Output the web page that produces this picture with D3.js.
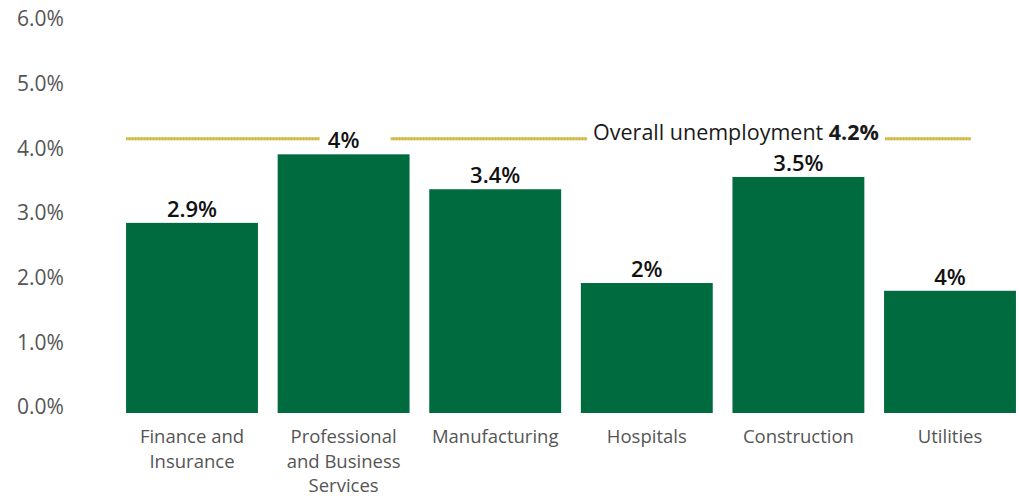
<!DOCTYPE html>
<html>
<head>
<meta charset="utf-8">
<script src="https://cdn.jsdelivr.net/npm/d3@7"></script>
<style>
  html, body { margin: 0; padding: 0; background: #fff; }
  svg { display: block; }
</style>
</head>
<body>
<svg id="chart" width="1019" height="496"></svg>
<script>
const categories = [
  ["Finance and", "Insurance"],
  ["Professional", "and Business", "Services"],
  ["Manufacturing"],
  ["Hospitals"],
  ["Construction"],
  ["Utilities"]
];
const values = [2.94, 4.0, 3.46, 2.01, 3.65, 1.89];
const valueLabels = ["2.9%", "4%", "3.4%", "2%", "3.5%", "4%"];
const yTicks = [0, 1, 2, 3, 4, 5, 6];
const overallValue = 4.24;
const overallLabel = ["Overall unemployment ", "4.2%"];

const svg = d3.select("#chart");
const font = "'Open Sans', Lato, sans-serif";

const x = d3.scaleBand()
  .domain(d3.range(categories.length))
  .range([116.2, 1025.8])
  .paddingInner(0.13)
  .paddingOuter(0.065);

const y = d3.scaleLinear().domain([0, 6]).range([413, 25]);

// Y axis labels
const yAxis = d3.axisLeft(y).tickValues(yTicks).tickFormat(d => d3.format(".1f")(d) + "%").tickSize(0).tickPadding(0);
const yg = svg.append("g").attr("transform", "translate(17,-6)").call(yAxis);
yg.select(".domain").remove();
yg.selectAll("text")
  .attr("text-anchor", "start")
  .attr("x", 0)
  .attr("font-family", font)
  .attr("font-size", 21)
  .attr("fill", "#555");

// Bars
svg.append("g").selectAll("rect").data(values).join("rect")
  .attr("x", (d, i) => x(i))
  .attr("width", x.bandwidth())
  .attr("y", d => y(d))
  .attr("height", d => y(0) - y(d))
  .attr("fill", "#006b3f");

// Overall line
const ly = y(overallValue);
svg.append("line")
  .attr("x1", x(0)).attr("x2", 971)
  .attr("y1", ly).attr("y2", ly)
  .attr("stroke", "#d8c257").attr("stroke-width", 3);
svg.append("line")
  .attr("x1", x(0)).attr("x2", 971)
  .attr("y1", ly).attr("y2", ly)
  .attr("stroke", "#c9a93a").attr("stroke-width", 3)
  .attr("stroke-dasharray", "1,2").attr("opacity", 0.6);

// White gap behind "4%" label on Professional bar
svg.append("rect")
  .attr("x", x(1) + x.bandwidth() / 2 - 24).attr("y", ly - 4)
  .attr("width", 71).attr("height", 8).attr("fill", "#fff");

// Overall label with white gap
const gapRect = svg.append("rect").attr("fill", "#fff");
const ot = svg.append("text")
  .attr("x", 736).attr("y", ly + 1)
  .attr("text-anchor", "middle")
  .attr("font-family", font)
  .attr("font-size", 21.5)
  .attr("fill", "#1a1a1a");
ot.append("tspan").text(overallLabel[0]);
ot.append("tspan").attr("font-weight", "bold").text(overallLabel[1]);
const bb = ot.node().getBBox();
gapRect
  .attr("x", bb.x - 6).attr("y", ly - 4)
  .attr("width", bb.width + 12).attr("height", 8);

// Value labels
svg.append("g").selectAll("text").data(values).join("text")
  .attr("x", (d, i) => x(i) + x.bandwidth() / 2)
  .attr("y", d => y(d) - 6)
  .attr("text-anchor", "middle")
  .attr("font-family", font)
  .attr("font-size", 22)
  .attr("font-weight", 600)
  .attr("fill", "#111")
  .text((d, i) => valueLabels[i]);

// Category labels
const cg = svg.append("g");
categories.forEach((lines, i) => {
  const t = cg.append("text")
    .attr("text-anchor", "middle")
    .attr("font-family", font)
    .attr("font-size", 18.5)
    .attr("fill", "#555");
  lines.forEach((ln, j) => {
    t.append("tspan")
      .attr("x", x(i) + x.bandwidth() / 2)
      .attr("y", 443 + j * 24.5)
      .text(ln);
  });
});
</script>
</body>
</html>
